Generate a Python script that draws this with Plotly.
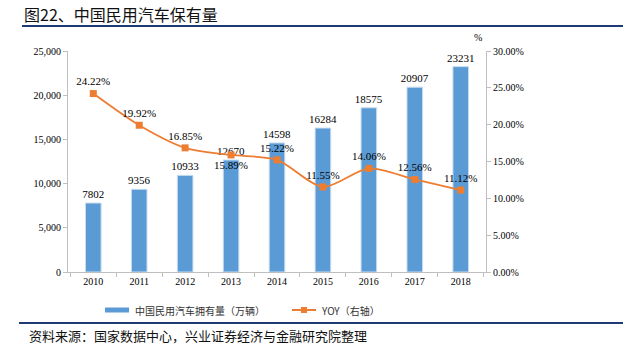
import plotly.graph_objects as go

years = ["2010", "2011", "2012", "2013", "2014", "2015", "2016", "2017", "2018"]
stock = [7802, 9356, 10933, 12670, 14598, 16284, 18575, 20907, 23231]
yoy = [24.22, 19.92, 16.85, 15.89, 15.22, 11.55, 14.06, 12.56, 11.12]
yoy_pos = ["top center", "top center", "top center", "bottom center", "top center",
           "top center", "top center", "top center", "top center"]
left_ticks = [0, 5000, 10000, 15000, 20000, 25000]
right_ticks = [0, 5, 10, 15, 20, 25, 30]
bar_name = "中国民用汽车拥有量（万辆）"
line_name = "YOY（右轴）"

serif = "Liberation Serif, Times New Roman, serif"
cjk = "Noto Sans CJK SC, sans-serif"

L, R, T, B = 68, 486, 51, 272
PW, PH = R - L, B - T


def px(x):
    return (x - L) / PW


def py(y):
    return (B - y) / PH


fig = go.Figure()
fig.add_trace(go.Bar(
    x=years, y=stock, name=bar_name,
    marker=dict(color="#5B9BD5", line=dict(color="#C9DDF0", width=1)),
    width=0.34,
    text=[str(v) for v in stock], textposition="outside", constraintext="none",
    textfont=dict(family=serif, size=11, color="#000"),
    cliponaxis=False,
))
fig.add_trace(go.Scatter(
    x=years, y=yoy, name=line_name, yaxis="y2",
    mode="lines+markers+text",
    line=dict(color="#ED7D31", width=1.8, shape="spline", smoothing=0.8),
    marker=dict(symbol="square", size=7, color="#ED7D31"),
    text=[f"{v:.2f}%" for v in yoy], textposition=yoy_pos,
    textfont=dict(family=serif, size=11, color="#000"),
    cliponaxis=False,
))

fig.update_layout(
    width=623, height=352,
    margin=dict(l=L, r=623 - R, t=T, b=352 - B),
    paper_bgcolor="white", plot_bgcolor="white",
    bargap=0.6,
    showlegend=False,
    uniformtext=dict(mode=False),
    xaxis=dict(type="category", showline=True, linecolor="#BFBFBF", linewidth=1,
               ticks="outside", tickson="boundaries", ticklen=4, tickcolor="#BFBFBF",
               tickfont=dict(family=serif, size=10, color="#000"), showgrid=False),
    yaxis=dict(range=[0, 25000], tickvals=left_ticks,
               ticktext=[f"{v:,}" for v in left_ticks],
               showline=True, linecolor="#BFBFBF", ticks="outside", ticklen=4,
               tickcolor="#BFBFBF", showgrid=False, zeroline=False,
               tickfont=dict(family=serif, size=10, color="#000")),
    yaxis2=dict(range=[0, 30], tickvals=right_ticks, overlaying="y", side="right",
                ticktext=[f"{v:.2f}%" for v in right_ticks],
                showline=True, linecolor="#BFBFBF", ticks="outside", ticklen=4,
                tickcolor="#BFBFBF", showgrid=False, zeroline=False,
                tickfont=dict(family=serif, size=10, color="#000")),
    font=dict(family=serif),
)

# title, unit, source
fig.add_annotation(text="图22、中国民用汽车保有量", xref="paper", yref="paper",
                   x=px(22), y=py(14), xanchor="left", yanchor="middle",
                   showarrow=False, font=dict(family=cjk, size=16, color="#111"))
fig.add_annotation(text="%", xref="paper", yref="paper",
                   x=px(478), y=py(37), xanchor="center", yanchor="middle",
                   showarrow=False, font=dict(family=serif, size=10, color="#000"))
fig.add_annotation(text="资料来源：国家数据中心，兴业证券经济与金融研究院整理", xref="paper", yref="paper",
                   x=px(27), y=py(335), xanchor="left", yanchor="middle",
                   showarrow=False, font=dict(family=cjk, size=13, color="#111"))

fig.add_shape(type="line", xref="paper", yref="paper",
              x0=px(22), x1=px(623), y0=py(26), y1=py(26),
              line=dict(color="#1F3B73", width=2))
fig.add_shape(type="line", xref="paper", yref="paper",
              x0=px(19), x1=px(623), y0=py(323), y1=py(323),
              line=dict(color="#1F3B73", width=2))

# legend (manual)
ly = 310
fig.add_shape(type="rect", xref="paper", yref="paper",
              x0=px(105), x1=px(129), y0=py(ly + 2.5), y1=py(ly - 2.5),
              line=dict(width=0), fillcolor="#5B9BD5")
fig.add_annotation(text=bar_name, xref="paper", yref="paper",
                   x=px(133), y=py(ly), xanchor="left", yanchor="middle",
                   showarrow=False, font=dict(family=cjk, size=10, color="#333"))
fig.add_shape(type="line", xref="paper", yref="paper",
              x0=px(292), x1=px(316), y0=py(ly), y1=py(ly),
              line=dict(color="#ED7D31", width=2))
fig.add_shape(type="rect", xref="paper", yref="paper",
              x0=px(301), x1=px(307), y0=py(ly + 3), y1=py(ly - 3),
              line=dict(width=0), fillcolor="#ED7D31")
fig.add_annotation(text=line_name, xref="paper", yref="paper",
                   x=px(319), y=py(ly), xanchor="left", yanchor="middle",
                   showarrow=False, font=dict(family=cjk, size=10, color="#333"))

fig.write_html("out.html")
